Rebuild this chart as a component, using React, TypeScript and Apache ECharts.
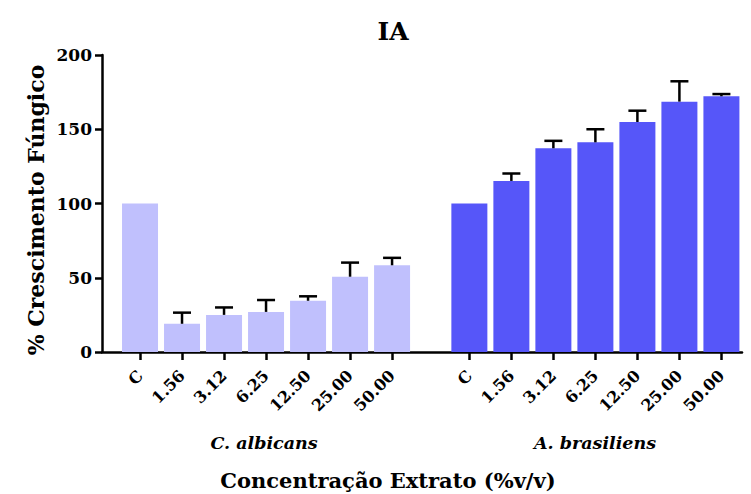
import React, { useEffect, useRef } from "react";
import * as echarts from "echarts";

const categories = ["C", "1.56", "3.12", "6.25", "12.50", "25.00", "50.00"];
const albicansValues = [100, 19, 25, 27, 34.5, 50.7, 58.4];
const albicansErrors = [0, 7.5, 5, 8, 3, 9.5, 5];
const brasiliensValues = [100, 115.2, 137.2, 141.2, 154.9, 168.6, 172.2];
const brasiliensErrors = [0, 5, 5, 8.8, 7.6, 13.7, 1.5];
const yTicks = [0, 50, 100, 150, 200];
const groupNames = ["C. albicans", "A. brasiliens"];

const GROUP2_OFFSET = 7.84;
const FONT = "DejaVu Serif";
const COLOR1 = "#c0c0fd";
const COLOR2 = "#5656f9";

export default function App() {
  const ref = useRef<HTMLDivElement>(null);
  useEffect(() => {
    if (!ref.current) return;
    const chart = echarts.init(ref.current, null, { renderer: "svg" });
    const pos1 = categories.map((_, i) => i);
    const pos2 = categories.map((_, i) => GROUP2_OFFSET + i);
    const allPos = [...pos1, ...pos2];
    const allLabels = [...categories, ...categories];
    const labelFor = (v: number) => {
      let best = 0;
      let d = Infinity;
      allPos.forEach((p, i) => {
        if (Math.abs(p - v) < d) {
          d = Math.abs(p - v);
          best = i;
        }
      });
      return allLabels[best];
    };
    const barData = [
      ...albicansValues.map((v, i) => ({ value: [pos1[i], v], itemStyle: { color: COLOR1 } })),
      ...brasiliensValues.map((v, i) => ({ value: [pos2[i], v], itemStyle: { color: COLOR2 } })),
    ];
    const errData = [
      ...albicansValues.map((v, i) => [pos1[i], v, albicansErrors[i]]),
      ...brasiliensValues.map((v, i) => [pos2[i], v, brasiliensErrors[i]]),
    ].filter((d) => d[2] > 0);

    chart.setOption({
      animation: false,
      grid: { left: 102, right: 9, top: 55, bottom: 142, containLabel: false },
      xAxis: {
        type: "value",
        min: -0.905,
        max: 14.33,
        splitLine: { show: false },
        axisLine: { show: true, onZero: false, lineStyle: { color: "#000", width: 2.5 } },
        axisTick: { show: true, customValues: allPos, length: 8, lineStyle: { color: "#000", width: 2.5 } },
        axisLabel: {
          show: true,
          customValues: allPos,
          formatter: (v: number) => labelFor(v),
          rotate: 45,
          margin: 21,
          color: "#000",
          fontFamily: FONT,
          fontWeight: "bold",
          fontSize: 16,
        },
      },
      yAxis: {
        type: "value",
        min: 0,
        max: 200,
        interval: 50,
        splitLine: { show: false },
        axisLine: { show: true, onZero: false, lineStyle: { color: "#000", width: 2.5 } },
        axisTick: { show: true, length: 7, lineStyle: { color: "#000", width: 2.5 } },
        axisLabel: {
          color: "#000",
          fontFamily: FONT,
          fontWeight: "bold",
          fontSize: 17,
          margin: 10,
          formatter: (v: number) => (yTicks.includes(v) ? String(v) : ""),
        },
      },
      series: [
        {
          type: "bar",
          data: barData,
          barWidth: 36,
          z: 2,
        },
        {
          type: "custom",
          z: 3,
          data: errData,
          renderItem: (params: any, api: any) => {
            const x = api.value(0);
            const y = api.value(1);
            const e = api.value(2);
            const p0 = api.coord([x, y]);
            const p1 = api.coord([x, y + e]);
            const style = { stroke: "#000", lineWidth: 2.5 };
            return {
              type: "group",
              children: [
                { type: "line", shape: { x1: p0[0], y1: p0[1], x2: p1[0], y2: p1[1] }, style },
                { type: "line", shape: { x1: p1[0] - 9, y1: p1[1], x2: p1[0] + 9, y2: p1[1] }, style },
              ],
            };
          },
        },
      ],
      graphic: [
        {
          type: "text",
          x: 393,
          y: 31,
          style: { text: "IA", fontFamily: FONT, fontWeight: "bold", fontSize: 25, fill: "#000", align: "center", verticalAlign: "middle" },
        },
        {
          type: "text",
          x: 36,
          y: 210,
          rotation: Math.PI / 2,
          style: { text: "% Crescimento Fúngico", fontFamily: FONT, fontWeight: "bold", fontSize: 22, fill: "#000", align: "center", verticalAlign: "middle" },
        },
        {
          type: "text",
          x: 264,
          y: 443,
          style: { text: groupNames[0], fontFamily: FONT, fontWeight: "bold", fontStyle: "italic", fontSize: 17.5, fill: "#000", align: "center", verticalAlign: "middle" },
        },
        {
          type: "text",
          x: 595,
          y: 443,
          style: { text: groupNames[1], fontFamily: FONT, fontWeight: "bold", fontStyle: "italic", fontSize: 17.5, fill: "#000", align: "center", verticalAlign: "middle" },
        },
        {
          type: "text",
          x: 388,
          y: 480,
          style: { text: "Concentração Extrato (%v/v)", fontFamily: FONT, fontWeight: "bold", fontSize: 21, fill: "#000", align: "center", verticalAlign: "middle" },
        },
      ],
    });
    return () => chart.dispose();
  }, []);
  return <div ref={ref} style={{ position: "absolute", left: 0, top: 0, width: 751, height: 494 }} />;
}
